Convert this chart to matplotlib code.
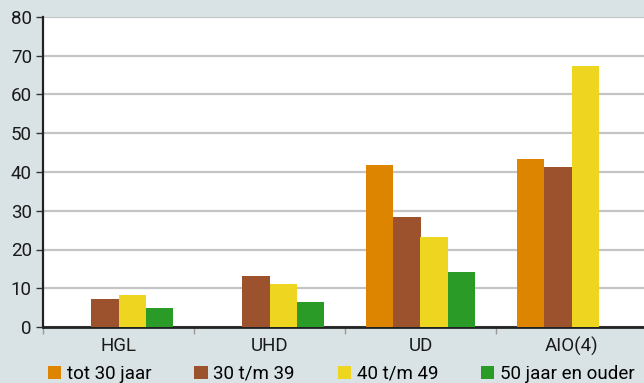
import matplotlib.pyplot as plt
import numpy as np

categories = ['HGL', 'UHD', 'UD', 'AIO(4)']
series = ['tot 30 jaar', '30 t/m 39', '40 t/m 49', '50 jaar en ouder']
tot30 = [0, 0, 41.8, 43.4]
t30_39 = [7.2, 13.2, 28.4, 41.3]
t40_49 = [8.3, 11.1, 23.2, 67.4]
t50plus = [4.9, 6.5, 14.2, 0]
colors = ['#dd8400', '#9b522d', '#eed520', '#2a9b27']

plt.rcParams['font.family'] = ['Roboto', 'DejaVu Sans']
bg = '#d9e3e6'

fig = plt.figure(figsize=(6.44, 3.83), dpi=100, facecolor=bg)
# plot area runs slightly past the right edge, like the source image
ax = fig.add_axes([43/644, (383-327)/383, 604/644, 310/383])
ax.set_facecolor('white')

x = np.arange(len(categories))
w = 0.18
for i, (vals, c, lab) in enumerate(zip([tot30, t30_39, t40_49, t50plus], colors, series)):
    ax.bar(x + (i - 1.5) * w, vals, w, color=c, label=lab, zorder=3)

ax.set_xlim(-0.5, 3.5)
ax.set_ylim(0, 80)
ax.set_yticks(range(0, 81, 10))
ax.yaxis.grid(True, color='#c4c4c4', linewidth=1.6, zorder=0)
ax.tick_params(axis='y', length=5, width=1, color='#333333', labelsize=13.5, pad=3, labelcolor='#1a1a1a')

# category labels between boundary ticks
ax.set_xticks(np.arange(-0.5, 4, 1))
ax.set_xticklabels([])
ax.tick_params(axis='x', which='major', length=5, width=1, color='#999999')
ax.set_xticks(x, minor=True)
ax.set_xticklabels(categories, minor=True)
ax.tick_params(axis='x', which='minor', length=0, labelsize=13.5, pad=7, labelcolor='#1a1a1a')

for s in ['top', 'right']:
    ax.spines[s].set_visible(False)
ax.spines['left'].set_color('#222222')
ax.spines['bottom'].set_color('#222222')
ax.spines['left'].set_linewidth(1.6)
ax.spines['bottom'].set_linewidth(2)

fig.legend(loc='center', bbox_to_anchor=(0.53, 9/383), ncol=4, frameon=False,
           fontsize=13.5, handlelength=0.7, handleheight=0.7, handletextpad=0.3,
           columnspacing=2.3, borderaxespad=0)

fig.savefig('out.png', dpi=100, facecolor=bg)
